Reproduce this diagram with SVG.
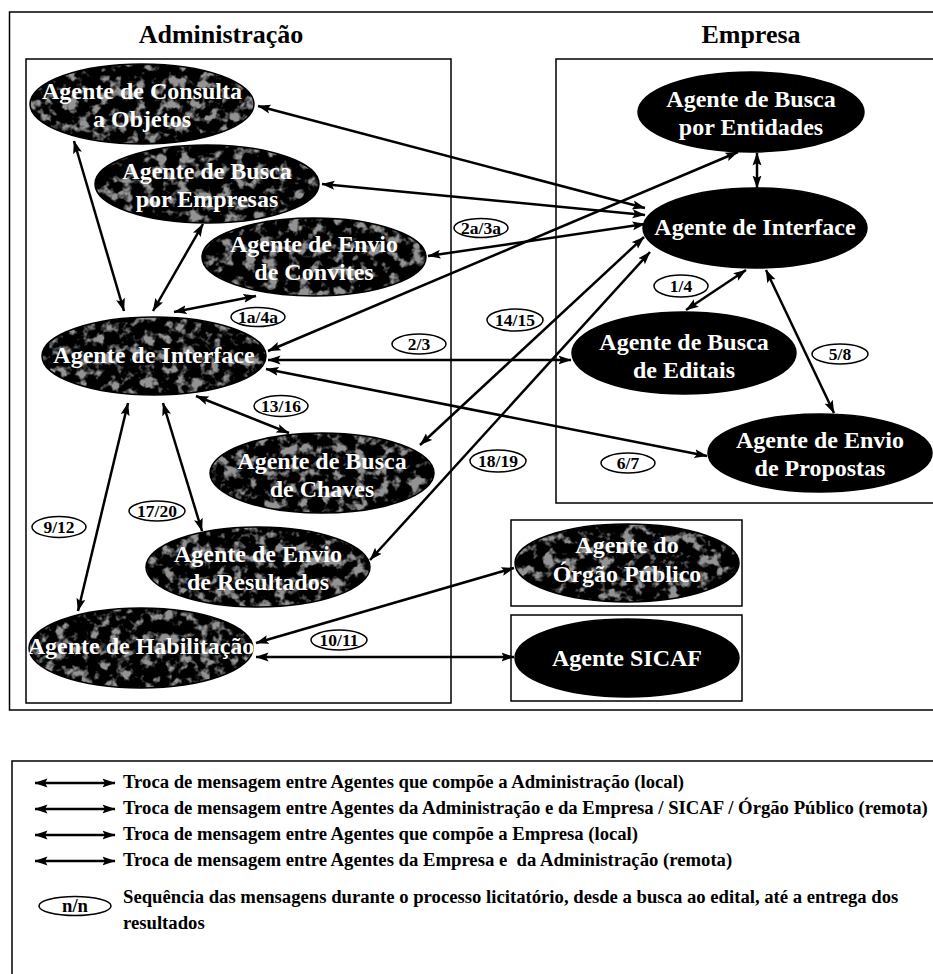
<svg xmlns="http://www.w3.org/2000/svg" width="933" height="974" viewBox="0 0 933 974">
<defs>
<style>
 text{font-family:"Liberation Serif","Times New Roman",serif;font-weight:bold}
 .title{font-size:26px;fill:#000;text-anchor:middle}
 .name{font-size:24px;fill:#fff;text-anchor:middle}
 .frame{fill:none;stroke:#000;stroke-width:1.5}
 .solid{fill:#000;stroke:#000;stroke-width:1.5}
 .mottled{fill:#000;filter:url(#mottle)}
 .rim{fill:none;stroke:#000;stroke-width:1.5}
 .seq ellipse{fill:#fff;stroke:#000;stroke-width:1.5}
 .seq text{font-size:17.5px;fill:#000;text-anchor:middle}
 #connectors line,.key-arrow{stroke:#000;stroke-width:2.5;marker-start:url(#ah);marker-end:url(#ah)}
 .legend text{font-size:18.7px;fill:#000;white-space:pre}
</style>
<marker id="ah" viewBox="0 0 13 10" refX="12.5" refY="5" markerWidth="13" markerHeight="10" markerUnits="userSpaceOnUse" orient="auto-start-reverse">
 <path d="M0,0.5 L13,5 L0,9.5 L2.5,5 Z" fill="#000"/>
</marker>
<!-- mottled black / grey fill used by the Administração agents -->
<filter id="mottle" x="0" y="0" width="1" height="1" color-interpolation-filters="sRGB">
 <feTurbulence type="fractalNoise" baseFrequency="0.09" numOctaves="3" seed="11" result="n"/>
 <feColorMatrix in="n" type="matrix" values="5 0 0 0 -2.5  5 0 0 0 -2.5  5 0 0 0 -2.5  0 0 0 0 1" result="t"/>
 <feComponentTransfer in="t" result="g">
  <feFuncR type="linear" slope="0.58"/>
  <feFuncG type="linear" slope="0.58"/>
  <feFuncB type="linear" slope="0.58"/>
 </feComponentTransfer>
 <feComposite in="g" in2="SourceAlpha" operator="in"/>
</filter>
</defs>

<rect width="933" height="974" fill="#fff"/>

<!-- frames -->
<rect class="frame" x="9.5" y="12" width="940" height="698"/>
<rect class="frame" x="26" y="59" width="425" height="644"/>
<rect class="frame" x="556" y="59" width="400" height="444"/>
<rect class="frame" x="511" y="520" width="231" height="86"/>
<rect class="frame" x="511" y="615" width="231" height="86"/>
<text class="title" x="221" y="43">Administração</text>
<text class="title" x="751" y="43">Empresa</text>

<!-- connectors -->
<g id="connectors">
 <line x1="74" y1="141" x2="124" y2="311"/>
 <line x1="203" y1="224" x2="153" y2="311"/>
 <line x1="256" y1="296" x2="174" y2="312"/>
 <line x1="196" y1="396" x2="289" y2="433"/>
 <line x1="163" y1="403" x2="202" y2="531"/>
 <line x1="128" y1="403" x2="78" y2="611"/>
 <line x1="258" y1="106" x2="645" y2="208"/>
 <line x1="322" y1="184" x2="645" y2="215"/>
 <line x1="428" y1="256" x2="645" y2="224"/>
 <line x1="268" y1="351" x2="738" y2="152"/>
 <line x1="268" y1="360" x2="571" y2="360"/>
 <line x1="266" y1="369" x2="707" y2="456"/>
 <line x1="420" y1="445" x2="644" y2="237"/>
 <line x1="370" y1="560" x2="650" y2="252"/>
 <line x1="256" y1="643" x2="514" y2="568"/>
 <line x1="256" y1="657" x2="514" y2="657"/>
 <line x1="757" y1="153" x2="757" y2="188"/>
 <line x1="746" y1="270" x2="686" y2="310"/>
 <line x1="766" y1="270" x2="834" y2="413"/>
</g>

<!-- Administração agents -->
<g id="adm-consulta">
 <ellipse class="mottled" cx="142" cy="104" rx="112" ry="40"/><ellipse class="rim" cx="142" cy="104" rx="112" ry="40"/>
 <text class="name" x="142" y="99">Agente de Consulta</text><text class="name" x="142" y="127">a Objetos</text>
</g>
<g id="adm-busca-empresas">
 <ellipse class="mottled" cx="207" cy="184" rx="112" ry="39"/><ellipse class="rim" cx="207" cy="184" rx="112" ry="39"/>
 <text class="name" x="207" y="179">Agente de Busca</text><text class="name" x="207" y="207">por Empresas</text>
</g>
<g id="adm-convites">
 <ellipse class="mottled" cx="314" cy="257" rx="112" ry="39"/><ellipse class="rim" cx="314" cy="257" rx="112" ry="39"/>
 <text class="name" x="314" y="252">Agente de Envio</text><text class="name" x="314" y="280">de Convites</text>
</g>
<g id="adm-interface">
 <ellipse class="mottled" cx="154" cy="356" rx="112" ry="39"/><ellipse class="rim" cx="154" cy="356" rx="112" ry="39"/>
 <text class="name" x="154" y="363">Agente de Interface</text>
</g>
<g id="adm-chaves">
 <ellipse class="mottled" cx="322" cy="473" rx="112" ry="40"/><ellipse class="rim" cx="322" cy="473" rx="112" ry="40"/>
 <text class="name" x="322" y="469">Agente de Busca</text><text class="name" x="322" y="497">de Chaves</text>
</g>
<g id="adm-resultados">
 <ellipse class="mottled" cx="258" cy="567" rx="112" ry="40"/><ellipse class="rim" cx="258" cy="567" rx="112" ry="40"/>
 <text class="name" x="258" y="562">Agente de Envio</text><text class="name" x="258" y="590">de Resultados</text>
</g>
<g id="adm-habilitacao">
 <ellipse class="mottled" cx="141" cy="648" rx="112" ry="40"/><ellipse class="rim" cx="141" cy="648" rx="112" ry="40"/>
 <text class="name" x="141" y="654">Agente de Habilitação</text>
</g>

<!-- Empresa agents -->
<g id="emp-entidades">
 <ellipse class="solid" cx="751" cy="112" rx="113" ry="40"/>
 <text class="name" x="751" y="107">Agente de Busca</text><text class="name" x="751" y="135">por Entidades</text>
</g>
<g id="emp-interface">
 <ellipse class="solid" cx="755" cy="228" rx="112" ry="40"/>
 <text class="name" x="755" y="235">Agente de Interface</text>
</g>
<g id="emp-editais">
 <ellipse class="solid" cx="684" cy="353" rx="112" ry="41"/>
 <text class="name" x="684" y="350">Agente de Busca</text><text class="name" x="684" y="378">de Editais</text>
</g>
<g id="emp-propostas">
 <ellipse class="solid" cx="820" cy="453" rx="112" ry="39"/>
 <text class="name" x="820" y="448">Agente de Envio</text><text class="name" x="820" y="476">de Propostas</text>
</g>

<!-- external agents -->
<g id="orgao-publico">
 <ellipse class="mottled" cx="627" cy="563" rx="112" ry="39"/><ellipse class="rim" cx="627" cy="563" rx="112" ry="39"/>
 <text class="name" x="627" y="553">Agente do</text><text class="name" x="627" y="582">Órgão Público</text>
</g>
<g id="sicaf">
 <ellipse class="solid" cx="627" cy="658" rx="112" ry="39"/>
 <text class="name" x="627" y="666">Agente SICAF</text>
</g>

<!-- message sequence labels -->
<g class="seq" id="sequence-labels">
 <ellipse cx="258" cy="317" rx="27" ry="9.5"/><text x="258" y="323">1a/4a</text>
 <ellipse cx="481" cy="228" rx="27" ry="9.5"/><text x="481" y="234">2a/3a</text>
 <ellipse cx="419" cy="344" rx="27" ry="10"/><text x="419" y="350">2/3</text>
 <ellipse cx="515" cy="320" rx="28" ry="11"/><text x="515" y="326">14/15</text>
 <ellipse cx="681" cy="286" rx="27" ry="11"/><text x="681" y="292">1/4</text>
 <ellipse cx="281" cy="406" rx="27" ry="10.5"/><text x="281" y="412">13/16</text>
 <ellipse cx="840" cy="354" rx="28" ry="10"/><text x="840" y="360">5/8</text>
 <ellipse cx="498" cy="461" rx="28" ry="11"/><text x="498" y="467">18/19</text>
 <ellipse cx="628" cy="463" rx="27" ry="10"/><text x="628" y="469">6/7</text>
 <ellipse cx="157" cy="511" rx="28" ry="10"/><text x="157" y="517">17/20</text>
 <ellipse cx="59" cy="527" rx="27" ry="10.5"/><text x="59" y="533">9/12</text>
 <ellipse cx="339" cy="640" rx="28" ry="10"/><text x="339" y="646">10/11</text>
</g>

<!-- legend -->
<g class="legend" id="legend">
 <rect class="frame" x="12" y="761" width="940" height="230"/>
 <line class="key-arrow" x1="35" y1="783" x2="115" y2="783"/>
 <line class="key-arrow" x1="35" y1="809" x2="115" y2="809"/>
 <line class="key-arrow" x1="35" y1="835" x2="115" y2="835"/>
 <line class="key-arrow" x1="35" y1="861" x2="115" y2="861"/>
 <text x="123" y="788">Troca de mensagem entre Agentes que compõe a Administração (local)</text>
 <text x="123" y="814">Troca de mensagem entre Agentes da Administração e da Empresa / SICAF / Órgão Público (remota)</text>
 <text x="123" y="840">Troca de mensagem entre Agentes que compõe a Empresa (local)</text>
 <text x="123" y="866">Troca de mensagem entre Agentes da Empresa e  da Administração (remota)</text>
 <g class="seq"><ellipse cx="75" cy="906" rx="36" ry="9.5"/><text x="75" y="912">n/n</text></g>
 <text x="123" y="903">Sequência das mensagens durante o processo licitatório, desde a busca ao edital, até a entrega dos</text>
 <text x="123" y="929">resultados</text>
</g>
</svg>
